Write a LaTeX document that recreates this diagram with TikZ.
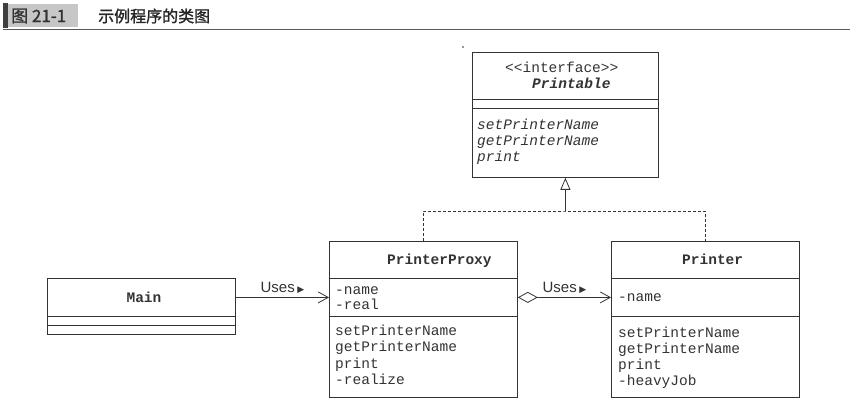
\documentclass[tikz,border=0pt]{standalone}
\usepackage{fontspec}
\setmainfont{Liberation Serif}
\newfontfamily\monof{Liberation Mono}
\newfontfamily\sansf{Liberation Sans}
\newfontfamily\symf{DejaVu Sans}
\newfontfamily\cjkf[FakeBold=1.4]{Noto Sans CJK SC}
\usetikzlibrary{arrows.meta}
\definecolor{ink}{HTML}{333333}
\begin{document}
\begin{tikzpicture}[x=1pt,y=-1pt,
  comp/.style={draw=ink, line width=0.8pt, anchor=north west, inner sep=0pt, minimum width=#1},
  comp/.default=188pt,
  txt/.style={anchor=base west, inner sep=0pt, text=ink, font=\monof\fontsize{14.5}{16}\selectfont},
  ttl/.style={anchor=base west, inner sep=0pt, text=ink, font=\monof\bfseries\fontsize{14.5}{16}\selectfont},
  conn/.style={draw=ink, line width=0.8pt},
  uses/.style={conn, -{Straight Barb[length=10pt,width=11pt,line width=0.8pt]}},
  ulabel/.style={midway, above=3pt, inner sep=0pt, text=ink, font=\sansf\fontsize{15}{16}\selectfont}
]
\useasboundingbox (0,0) rectangle (854,414);
% header
\fill[black!75] (3,3) rectangle (8,28);
\node[fill=black!22, anchor=north west, minimum width=70pt, minimum height=23pt, inner sep=0pt] (hbox) at (8,4) {};
\node[anchor=west, inner sep=0pt, text=black!80, font=\cjkf\fontsize{17}{18}\selectfont] (hnum) at (11,16) {图 21-1};
\node[anchor=west, inner sep=0pt, text=black!85, font=\cjkf\fontsize{16}{18}\selectfont] (htitle) at (98,16) {示例程序的类图};
\draw[black!65, line width=1pt] (3,29.5) -- (850,29.5);

% interface Printable
\node[comp=186pt, minimum height=47pt] (iA) at (472,52) {};
\node[comp=186pt, minimum height=9pt] (iB) at (472,99) {};
\node[comp=186pt, minimum height=69pt] (iC) at (472,108) {};
\node[txt] (iS) at (505,73) {<<interface>>};
\node[txt, font=\monof\bfseries\itshape\fontsize{14.5}{16}\selectfont] (iN) at (532,89) {Printable};
\node[txt, font=\monof\itshape\fontsize{14.5}{16}\selectfont] (i1) at (477,130) {setPrinterName};
\node[txt, font=\monof\itshape\fontsize{14.5}{16}\selectfont] (i2) at (477,146) {getPrinterName};
\node[txt, font=\monof\itshape\fontsize{14.5}{16}\selectfont] (i3) at (477,162) {print};
\fill[ink] (463,47) circle (0.9pt) coordinate (dot);

% PrinterProxy
\node[comp, minimum height=37pt] (pA) at (329,241) {};
\node[comp, minimum height=38pt] (pB) at (329,278) {};
\node[comp, minimum height=81pt] (pC) at (329,316) {};
\node[ttl] (pN) at (387,264) {PrinterProxy};
\node[txt] (p1) at (335,294) {-name};
\node[txt] (p2) at (335,309) {-real};
\node[txt] (p3) at (335,335) {setPrinterName};
\node[txt] (p4) at (335,351) {getPrinterName};
\node[txt] (p5) at (335,368) {print};
\node[txt] (p6) at (335,384) {-realize};

% Printer
\node[comp, minimum height=37pt] (rA) at (611,241) {};
\node[comp, minimum height=38pt] (rB) at (611,278) {};
\node[comp, minimum height=81pt] (rC) at (611,316) {};
\node[ttl] (rN) at (682,264) {Printer};
\node[txt] (r1) at (618,301) {-name};
\node[txt] (r3) at (618,337) {setPrinterName};
\node[txt] (r4) at (618,353) {getPrinterName};
\node[txt] (r5) at (618,369) {print};
\node[txt] (r6) at (618,385) {-heavyJob};

% Main
\node[comp, minimum height=38pt] (mA) at (47,278) {};
\node[comp, minimum height=9pt] (mB) at (47,316) {};
\node[comp, minimum height=9pt] (mC) at (47,325) {};
\node[ttl, anchor=base] (mN) at (144,302) {Main};

% connectors
\draw[uses] (mA.east) -- node[ulabel] (u1) {Uses\,{\symf\fontsize{9}{10}\selectfont ▶}} (pB.west);
\draw[uses, {Diamond[open,length=20pt,width=11pt,line width=0.8pt]}-{Straight Barb[length=10pt,width=11pt,line width=0.8pt]}] (pB.east) -- node[ulabel] (u2) {Uses\,{\symf\fontsize{9}{10}\selectfont ▶}} (rB.west);
\coordinate (j) at (iC.south |- 0,211);
\draw[conn, dashed, dash pattern=on 3pt off 2pt] (pA.north) |- (j) -| (rA.north);
\draw[conn, -{Triangle[open,length=12pt,width=10pt,line width=0.8pt]}] (j) -- (iC.south);
\end{tikzpicture}
\end{document}
